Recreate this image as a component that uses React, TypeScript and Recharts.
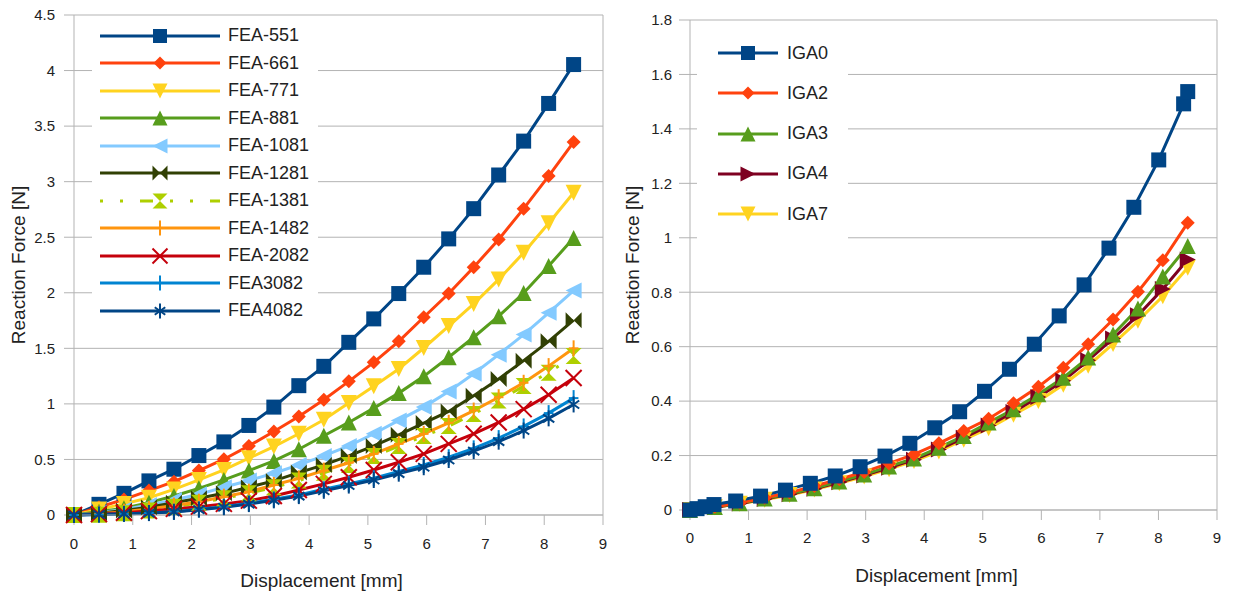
import React from 'react';
import { LineChart, Line, XAxis, YAxis, CartesianGrid, Legend, ReferenceLine } from 'recharts';

const FONT = '"Liberation Sans", Arial, sans-serif';
const GRID = '#b3b3b3';
const TEXT = '#222';

// displacement samples shared by all FEA runs and IGA2..IGA7 [mm]
const stepX = [0, 0.425, 0.85, 1.275, 1.7, 2.125, 2.55, 2.975, 3.4, 3.825, 4.25, 4.675, 5.1, 5.525, 5.95, 6.375, 6.8, 7.225, 7.65, 8.075, 8.5];

const fea551 = [0, 0.096, 0.195, 0.307, 0.412, 0.535, 0.658, 0.806, 0.971, 1.164, 1.338, 1.554, 1.765, 1.993, 2.23, 2.485, 2.757, 3.06, 3.365, 3.704, 4.054];
const fea661 = [0, 0.07, 0.14, 0.22, 0.3, 0.4, 0.502, 0.622, 0.752, 0.887, 1.037, 1.203, 1.374, 1.563, 1.78, 1.993, 2.23, 2.48, 2.757, 3.05, 3.356];
const fea771 = [0, 0.05, 0.1, 0.155, 0.23, 0.316, 0.406, 0.511, 0.616, 0.731, 0.857, 1.007, 1.158, 1.314, 1.503, 1.7, 1.9, 2.12, 2.36, 2.626, 2.9];
const fea881 = [0, 0.03, 0.06, 0.111, 0.171, 0.24, 0.316, 0.4, 0.487, 0.592, 0.713, 0.833, 0.962, 1.097, 1.248, 1.42, 1.6, 1.789, 1.998, 2.24, 2.494];
const fea1081 = [0, 0.02, 0.05, 0.09, 0.135, 0.186, 0.25, 0.31, 0.376, 0.451, 0.532, 0.622, 0.731, 0.851, 0.971, 1.112, 1.272, 1.443, 1.624, 1.82, 2.02];
const fea1281 = [0, 0.015, 0.04, 0.07, 0.111, 0.15, 0.195, 0.25, 0.307, 0.382, 0.451, 0.532, 0.622, 0.722, 0.827, 0.932, 1.073, 1.224, 1.389, 1.563, 1.753];
const fea1381 = [0, 0.002, 0.015, 0.04, 0.075, 0.11, 0.15, 0.195, 0.25, 0.31, 0.38, 0.45, 0.53, 0.62, 0.71, 0.8, 0.91, 1.03, 1.16, 1.28, 1.43];
const fea1482 = [0, 0.012, 0.03, 0.055, 0.085, 0.12, 0.165, 0.21, 0.27, 0.33, 0.4, 0.47, 0.55, 0.64, 0.73, 0.83, 0.94, 1.06, 1.19, 1.34, 1.5];
const fea2082 = [0, 0.008, 0.02, 0.035, 0.055, 0.075, 0.1, 0.129, 0.171, 0.225, 0.28, 0.34, 0.405, 0.475, 0.55, 0.64, 0.731, 0.833, 0.953, 1.082, 1.233];
const fea3082 = [0, 0.004, 0.01, 0.018, 0.03, 0.051, 0.075, 0.105, 0.141, 0.18, 0.232, 0.28, 0.331, 0.391, 0.45, 0.52, 0.6, 0.692, 0.797, 0.917, 1.052];
const fea4082 = [0, 0.004, 0.01, 0.017, 0.028, 0.048, 0.07, 0.098, 0.132, 0.17, 0.218, 0.265, 0.315, 0.372, 0.43, 0.495, 0.575, 0.66, 0.76, 0.87, 0.995];

// IGA0 was sampled at its own displacements
const iga0X = [0, 0.12, 0.26, 0.41, 0.78, 1.205, 1.63, 2.055, 2.48, 2.905, 3.33, 3.755, 4.18, 4.605, 5.03, 5.455, 5.88, 6.305, 6.73, 7.155, 7.58, 8.005, 8.43, 8.5];
const iga0 = [0, 0.005, 0.012, 0.02, 0.033, 0.051, 0.073, 0.098, 0.125, 0.159, 0.198, 0.245, 0.302, 0.361, 0.436, 0.517, 0.609, 0.713, 0.827, 0.962, 1.112, 1.286, 1.492, 1.537];
const iga2 = [0, 0.012, 0.027, 0.045, 0.064, 0.088, 0.113, 0.14, 0.171, 0.204, 0.245, 0.29, 0.335, 0.392, 0.453, 0.523, 0.609, 0.7, 0.802, 0.917, 1.055];
const iga3 = [0, 0.011, 0.025, 0.042, 0.06, 0.08, 0.105, 0.13, 0.16, 0.189, 0.229, 0.272, 0.321, 0.37, 0.425, 0.486, 0.56, 0.645, 0.74, 0.858, 0.97];
const iga4 = [0, 0.01, 0.024, 0.04, 0.058, 0.078, 0.102, 0.127, 0.155, 0.185, 0.222, 0.265, 0.31, 0.36, 0.415, 0.475, 0.55, 0.63, 0.715, 0.812, 0.92];
const iga7 = [0, 0.01, 0.023, 0.038, 0.055, 0.075, 0.098, 0.123, 0.15, 0.18, 0.215, 0.258, 0.3, 0.35, 0.4, 0.46, 0.53, 0.61, 0.695, 0.785, 0.89];

const feaTicksX = [0, 1, 2, 3, 4, 5, 6, 7, 8, 9];
const feaTicksY = [0, 0.5, 1, 1.5, 2, 2.5, 3, 3.5, 4, 4.5];
const igaTicksY = [0, 0.2, 0.4, 0.6, 0.8, 1, 1.2, 1.4, 1.6, 1.8];

type Shape = 'square' | 'diamond' | 'down' | 'up' | 'left' | 'right' | 'bowtie' | 'hourglass' | 'plus' | 'cross' | 'star';

interface Series {
  key: string;
  name: string;
  color: string;
  shape: Shape;
  values: number[];
  dash?: string;
}

const feaSeries: Series[] = [
  { key: 'f551', name: 'FEA-551', color: '#004586', shape: 'square', values: fea551 },
  { key: 'f661', name: 'FEA-661', color: '#ff420e', shape: 'diamond', values: fea661 },
  { key: 'f771', name: 'FEA-771', color: '#ffd320', shape: 'down', values: fea771 },
  { key: 'f881', name: 'FEA-881', color: '#579d1c', shape: 'up', values: fea881 },
  { key: 'f1081', name: 'FEA-1081', color: '#83caff', shape: 'left', values: fea1081 },
  { key: 'f1281', name: 'FEA-1281', color: '#314004', shape: 'bowtie', values: fea1281 },
  { key: 'f1381', name: 'FEA-1381', color: '#aecf00', shape: 'hourglass', values: fea1381, dash: '3 17 3 17 13 17' },
  { key: 'f1482', name: 'FEA-1482', color: '#ff950e', shape: 'plus', values: fea1482 },
  { key: 'f2082', name: 'FEA-2082', color: '#c5000b', shape: 'cross', values: fea2082 },
  { key: 'f3082', name: 'FEA3082', color: '#0084d1', shape: 'plus', values: fea3082 },
  { key: 'f4082', name: 'FEA4082', color: '#004586', shape: 'star', values: fea4082 },
];

const igaSeries: Series[] = [
  { key: 'i0', name: 'IGA0', color: '#004586', shape: 'square', values: iga0 },
  { key: 'i2', name: 'IGA2', color: '#ff420e', shape: 'diamond', values: iga2 },
  { key: 'i3', name: 'IGA3', color: '#579d1c', shape: 'up', values: iga3 },
  { key: 'i4', name: 'IGA4', color: '#7e0021', shape: 'right', values: iga4 },
  { key: 'i7', name: 'IGA7', color: '#ffd320', shape: 'down', values: iga7 },
];

const feaRows = stepX.map((x, i) => {
  const row: Record<string, number> = { x };
  feaSeries.forEach((s) => (row[s.key] = s.values[i]));
  return row;
});

const igaData = (s: Series) => (s.key === 'i0' ? iga0X : stepX).map((x, i) => ({ x, y: s.values[i] }));

// filled shapes get a touch more room than the diamond, like the office symbols
const markerR = (shape: Shape) => (shape === 'diamond' ? 7 : shape === 'square' ? 7.5 : 8);

function Marker({ shape, cx, cy, r, color }: { shape: Shape; cx: number; cy: number; r: number; color: string }) {
  const pts = (a: number[][]) => a.map((p) => `${cx + p[0] * r},${cy + p[1] * r}`).join(' ');
  const line = { stroke: color, strokeWidth: 2, fill: 'none' };
  switch (shape) {
    case 'square':
      return <rect x={cx - r} y={cy - r} width={2 * r} height={2 * r} fill={color} />;
    case 'diamond':
      return <polygon points={pts([[0, -1], [1, 0], [0, 1], [-1, 0]])} fill={color} />;
    case 'down':
      return <polygon points={pts([[-1, -1], [1, -1], [0, 1]])} fill={color} />;
    case 'up':
      return <polygon points={pts([[0, -1], [1, 1], [-1, 1]])} fill={color} />;
    case 'left':
      return <polygon points={pts([[-1, 0], [1, -1], [1, 1]])} fill={color} />;
    case 'right':
      return <polygon points={pts([[1, 0], [-1, -1], [-1, 1]])} fill={color} />;
    case 'bowtie':
      return <polygon points={pts([[-1, -1], [0, 0], [1, -1], [1, 1], [0, 0], [-1, 1]])} fill={color} />;
    case 'hourglass':
      return <polygon points={pts([[-1, -1], [1, -1], [0, 0], [1, 1], [-1, 1], [0, 0]])} fill={color} />;
    case 'plus':
      return (
        <g {...line}>
          <line x1={cx} y1={cy - r} x2={cx} y2={cy + r} />
          <line x1={cx - r * 0.6} y1={cy} x2={cx + r * 0.6} y2={cy} />
        </g>
      );
    case 'cross':
      return (
        <g {...line}>
          <line x1={cx - r} y1={cy - r} x2={cx + r} y2={cy + r} />
          <line x1={cx - r} y1={cy + r} x2={cx + r} y2={cy - r} />
        </g>
      );
    default:
      return (
        <g {...line}>
          <line x1={cx} y1={cy - r} x2={cx} y2={cy + r} />
          <line x1={cx - r * 0.7} y1={cy - r * 0.5} x2={cx + r * 0.7} y2={cy + r * 0.5} />
          <line x1={cx - r * 0.7} y1={cy + r * 0.5} x2={cx + r * 0.7} y2={cy - r * 0.5} />
        </g>
      );
  }
}

function LegendBox({ series, rowH, lineW, gap, padL, padT }: { series: Series[]; rowH: number; lineW: number; gap: number; padL: number; padT: number }) {
  return (
    <div style={{ background: '#fff', width: '100%', height: '100%', boxSizing: 'border-box', padding: `${padT}px 0 0 ${padL}px`, fontFamily: FONT, fontSize: 18, color: TEXT }}>
      {series.map((s) => (
        <div key={s.key} style={{ display: 'flex', alignItems: 'center', height: rowH }}>
          <svg width={lineW} height={20} style={{ display: 'block' }}>
            <line x1={0} y1={10} x2={lineW} y2={10} stroke={s.color} strokeWidth={3} strokeDasharray={s.dash} />
            <Marker shape={s.shape} cx={lineW / 2} cy={10} r={markerR(s.shape) - 0.5} color={s.color} />
          </svg>
          <span style={{ marginLeft: gap, whiteSpace: 'nowrap' }}>{s.name}</span>
        </div>
      ))}
    </div>
  );
}

const yTitle = (dx: number) => (props: any) => {
  const { x, y, height } = props.viewBox;
  const cx = x + dx;
  const cy = y + height / 2;
  return (
    <text x={cx} y={cy} transform={`rotate(-90 ${cx} ${cy})`} textAnchor="middle" dominantBaseline="central" fontSize={19} fill={TEXT} fontFamily={FONT}>
      Reaction Force [N]
    </text>
  );
};

const xTitle = (props: any) => {
  const { x, y, width } = props.viewBox;
  return (
    <text x={x + width / 2 - 17} y={y + 65} textAnchor="middle" dominantBaseline="central" fontSize={19} fill={TEXT} fontFamily={FONT}>
      Displacement [mm]
    </text>
  );
};

const tickStyle = { fontSize: 15, fill: TEXT, fontFamily: FONT };

export default function App() {
  return (
    <div style={{ position: 'absolute', left: 0, top: 0, width: 1235, height: 592, background: '#fff', display: 'flex' }}>
      <LineChart width={615} height={592} data={feaRows} margin={{ top: 15, right: 12, bottom: 27, left: 0 }} style={{ fontFamily: FONT }}>
        <CartesianGrid vertical={false} stroke={GRID} />
        <XAxis
          type="number"
          dataKey="x"
          domain={[0, 9]}
          ticks={feaTicksX}
          interval={0}
          height={50}
          tick={tickStyle}
          tickSize={10}
          tickMargin={13}
          axisLine={{ stroke: GRID }}
          tickLine={{ stroke: GRID }}
          label={{ content: xTitle }}
        />
        <YAxis
          type="number"
          domain={[0, 4.5]}
          ticks={feaTicksY}
          interval={0}
          width={74}
          tick={tickStyle}
          tickSize={10}
          tickMargin={9}
          axisLine={{ stroke: GRID }}
          tickLine={{ stroke: GRID }}
          label={{ content: yTitle(18) }}
        />
        <ReferenceLine x={9} stroke={GRID} />
        {feaSeries.map((s) => (
          <Line
            key={s.key}
            type="linear"
            dataKey={s.key}
            name={s.name}
            stroke={s.color}
            strokeWidth={3}
            strokeDasharray={s.dash}
            isAnimationActive={false}
            activeDot={false}
            dot={(p: any) => <Marker key={`${s.key}-${p.index}`} shape={s.shape} cx={p.cx} cy={p.cy} r={markerR(s.shape)} color={s.color} />}
          />
        ))}
        <Legend
          layout="vertical"
          align="center"
          verticalAlign="middle"
          wrapperStyle={{ left: 92, top: 20, width: 226, height: 305 }}
          content={() => <LegendBox series={feaSeries} rowH={27.5} lineW={120} gap={8} padL={8} padT={2} />}
        />
      </LineChart>

      <LineChart width={620} height={592} margin={{ top: 20, right: 18, bottom: 32, left: 0 }} style={{ fontFamily: FONT }}>
        <CartesianGrid vertical={false} stroke={GRID} />
        <XAxis
          type="number"
          dataKey="x"
          domain={[0, 9]}
          ticks={feaTicksX}
          interval={0}
          height={50}
          tick={tickStyle}
          tickSize={10}
          tickMargin={12}
          axisLine={{ stroke: GRID }}
          tickLine={{ stroke: GRID }}
          label={{ content: xTitle }}
        />
        <YAxis
          type="number"
          domain={[0, 1.8]}
          ticks={igaTicksY}
          interval={0}
          width={75}
          tick={tickStyle}
          tickSize={11}
          tickMargin={7}
          axisLine={{ stroke: GRID }}
          tickLine={{ stroke: GRID }}
          label={{ content: yTitle(17) }}
        />
        <ReferenceLine x={9} stroke={GRID} />
        {[...igaSeries].reverse().map((s) => (
          <Line
            key={s.key}
            data={igaData(s)}
            type="linear"
            dataKey="y"
            name={s.name}
            stroke={s.color}
            strokeWidth={3}
            isAnimationActive={false}
            activeDot={false}
            dot={(p: any) => <Marker key={`${s.key}-${p.index}`} shape={s.shape} cx={p.cx} cy={p.cy} r={markerR(s.shape)} color={s.color} />}
          />
        ))}
        <Legend
          layout="vertical"
          align="center"
          verticalAlign="middle"
          wrapperStyle={{ left: 82, top: 28, width: 151, height: 217 }}
          content={() => <LegendBox series={igaSeries} rowH={40.25} lineW={60} gap={9} padL={21} padT={5} />}
        />
      </LineChart>
    </div>
  );
}
